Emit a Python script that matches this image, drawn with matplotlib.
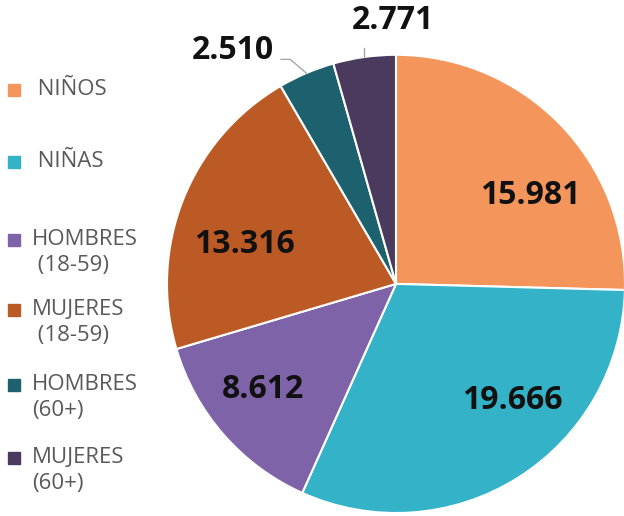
import matplotlib.pyplot as plt
import numpy as np

categories = [" NIÑOS", " NIÑAS", "HOMBRES\n (18-59)", "MUJERES\n (18-59)",
              "HOMBRES\n(60+)", "MUJERES\n(60+)"]
values = [15.981, 19.666, 8.612, 13.316, 2.510, 2.771]
value_labels = ["15.981", "19.666", "8.612", "13.316", "2.510", "2.771"]
colors = ["#F4965C", "#33B2C8", "#7F63A8", "#BC5A25", "#1D616E", "#4A3A5E"]

# label placement inside the big slices: (radius, angle shift from mid in degrees)
inner_pos = {0: (0.71, -9.75), 1: (0.707, 13.7), 2: (0.73, -4.0), 3: (0.687, 5.4)}

fig = plt.figure(figsize=(6.24, 5.16), dpi=100)
ax = fig.add_axes([0.2676, 0.0058, 0.734, 0.888])

wedges, _ = ax.pie(values, colors=colors, startangle=90, counterclock=False,
                   radius=1.0, wedgeprops=dict(edgecolor="white", linewidth=1.5))
ax.set_xlim(-1, 1)
ax.set_ylim(-1, 1)
ax.set_aspect("auto")
ax.axis("off")

label_font = dict(family="Open Sans", fontsize=23, fontweight="bold", color="#111111")

for i, (r, shift) in inner_pos.items():
    w = wedges[i]
    mid = np.deg2rad((w.theta1 + w.theta2) / 2 + shift)
    ax.annotate(value_labels[i], (r * np.cos(mid), r * np.sin(mid)),
                xytext=(0, -3), textcoords="offset points",
                ha="center", va="center", **label_font)

# small slices: labels outside with leader lines
m4 = np.deg2rad((wedges[4].theta1 + wedges[4].theta2) / 2)
x4, y4 = np.cos(m4), np.sin(m4)
ax.plot([x4, x4 - 0.07, x4 - 0.11], [y4, y4 + 0.06, y4 + 0.06], color="#A6A6A6", lw=1, clip_on=False)
ax.text(x4 - 0.32, y4 + 0.1, value_labels[4], ha="center", va="center", **label_font)

m5 = np.deg2rad((wedges[5].theta1 + wedges[5].theta2) / 2)
x5, y5 = np.cos(m5), np.sin(m5)
ax.plot([x5, x5], [y5, y5 + 0.04], color="#A6A6A6", lw=1, clip_on=False)
ax.text(x5 + 0.125, y5 + 0.16, value_labels[5], ha="center", va="center", **label_font)

# legend drawn by hand
legend_y = [90, 162, 240, 310, 385, 458]
for cat, col, yy in zip(categories, colors, legend_y):
    yf = 1 - yy / 516
    fig.patches.append(plt.Rectangle((8 / 624, yf - 6 / 516), 12 / 624, 12 / 516,
                                     transform=fig.transFigure, color=col))
    fig.text(32 / 624, yf + 11 / 516, cat, ha="left", va="top", family="Open Sans",
             fontsize=16, color="#595959", linespacing=1.3)

fig.savefig("out.png", dpi=100)
